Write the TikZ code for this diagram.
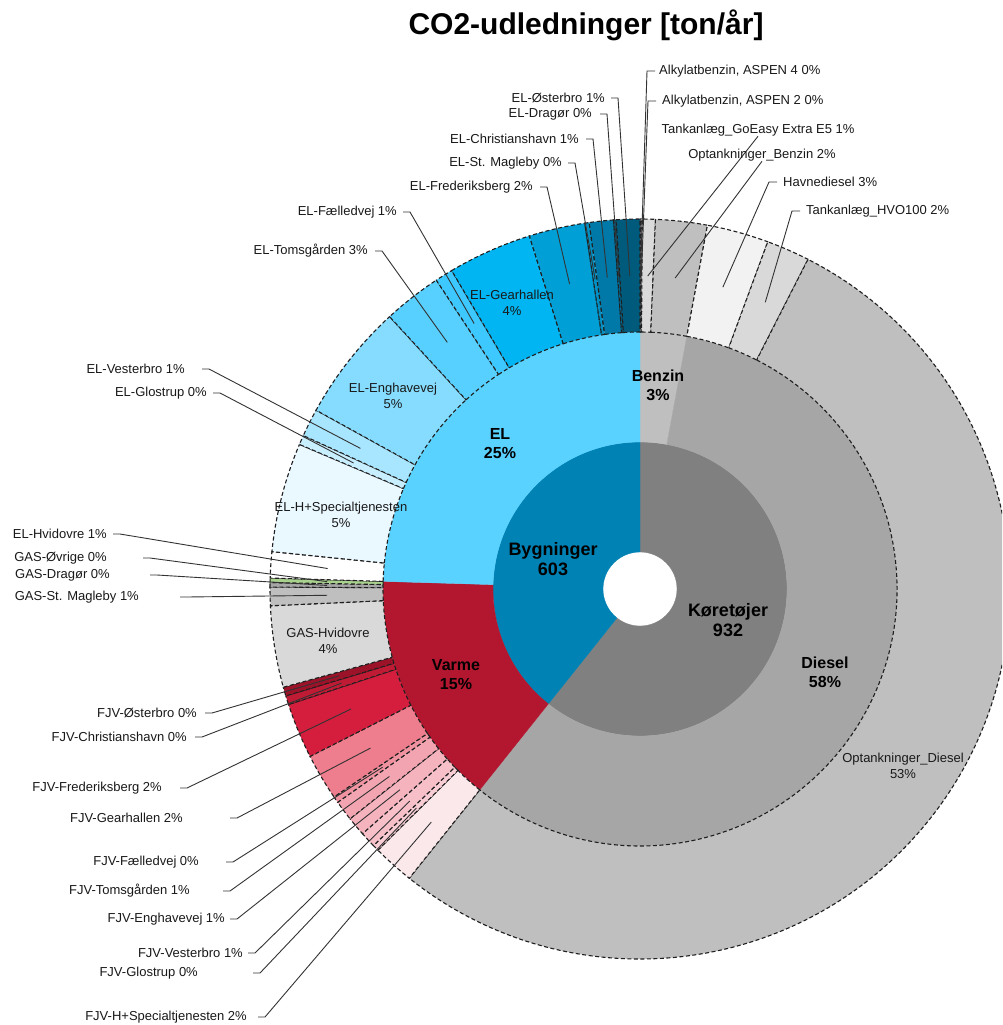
\documentclass[tikz,border=0pt]{standalone}
\usepackage{fontspec}
\setmainfont{Liberation Sans}
\usetikzlibrary{calc}
% ring 1 / ring 2
\definecolor{byg}{HTML}{0082B4}
\definecolor{koer}{HTML}{808080}
\definecolor{benz}{HTML}{BFBFBF}
\definecolor{dies}{HTML}{A6A6A6}
\definecolor{elc}{HTML}{5AD2FF}
\definecolor{varm}{HTML}{B3172F}
% ring 3 vehicles
\definecolor{aspA}{HTML}{D88A9C}
\definecolor{aspB}{HTML}{E6E6E6}
\definecolor{goe}{HTML}{DADADA}
\definecolor{optb}{HTML}{BFBFBF}
\definecolor{havn}{HTML}{F2F2F2}
\definecolor{hvo}{HTML}{D9D9D9}
\definecolor{optd}{HTML}{BFBFBF}
% ring 3 heating
\definecolor{fjvH}{HTML}{FBE8EB}
\definecolor{fjvGl}{HTML}{F9CDD4}
\definecolor{fjvVe}{HTML}{F7C0C9}
\definecolor{fjvEn}{HTML}{F5B3BE}
\definecolor{fjvTo}{HTML}{F2A5B1}
\definecolor{fjvFa}{HTML}{F092A0}
\definecolor{fjvGe}{HTML}{EE7E8E}
\definecolor{fjvFr}{HTML}{D51E3E}
\definecolor{fjvCh}{HTML}{C01B35}
\definecolor{fjvOe}{HTML}{9C1228}
\definecolor{gasHv}{HTML}{D9D9D9}
\definecolor{gasSt}{HTML}{BFBFBF}
\definecolor{gasDr}{HTML}{A6A6A6}
\definecolor{gasOv}{HTML}{A9D18E}
% ring 3 electricity
\definecolor{elHv}{HTML}{FFFFFF}
\definecolor{elH}{HTML}{EAF8FF}
\definecolor{elGl}{HTML}{C8EFFF}
\definecolor{elVe}{HTML}{A8E6FF}
\definecolor{elEn}{HTML}{85DCFF}
\definecolor{elTo}{HTML}{57CFFF}
\definecolor{elFa}{HTML}{3DC8FF}
\definecolor{elGe}{HTML}{00B5F2}
\definecolor{elFr}{HTML}{009FD6}
\definecolor{elSt}{HTML}{0090C4}
\definecolor{elCh}{HTML}{0079A8}
\definecolor{elDr}{HTML}{006A93}
\definecolor{elOe}{HTML}{005A7C}

% annular sector: [opts]{theta1}{theta2}{r_in}{r_out}{colour}, theta clockwise from north
\newcommand\ringseg[6][]{%
  \path[fill=#6,#1] ({#2-90}:#4pt) arc[start angle={#2-90},end angle={#3-90},radius=#4pt]
    -- ({#3-90}:#5pt) arc[start angle={#3-90},end angle={#2-90},radius=#5pt] -- cycle;}
% left label: name, right x, y, leader start x, text
\newcommand\leftlab[5]{%
  \node[labsty,anchor=east] (#1) at (#2,#3) {#5};
  \draw[leadsty] (#1.east) ++({#4-#2},0) -- ++(7,0) -- (#1e);}
% right label: name, left x, y, leader start x, text
\newcommand\rightlab[5]{%
  \node[labsty,anchor=west] (#1) at (#2,#3) {#5};
  \draw[leadsty] (#1.west) ++({#4-#2},0) -- ++(-8,0) -- (#1e);}

\begin{document}
\begin{tikzpicture}[x=1pt,y=1pt,yscale=-1,
  labsty/.style={inner sep=0pt,font=\fontsize{13}{16}\selectfont,text=black!90},
  seglab/.style={inner sep=0pt,align=center,font=\fontsize{13}{16}\selectfont,text=black!90},
  bigsty/.style={inner sep=0pt,align=center,font=\bfseries\fontsize{18}{20}\selectfont},
  midsty/.style={inner sep=0pt,align=center,font=\bfseries\fontsize{16}{19}\selectfont},
  titlesty/.style={inner sep=0pt,font=\bfseries\fontsize{30}{34}\selectfont},
  leadsty/.style={draw=black!80,line width=0.9pt},
  ringline/.style={draw=black!88,line width=1.1pt,dash pattern=on 4pt off 2.5pt}]
\useasboundingbox (0,0) rectangle (1002,1025);
\fill[white] (0,0) rectangle (1002,1025);
\begin{scope}
\clip (0,0) rectangle (1002,1025);
\begin{scope}[shift={(640,589)}]
% ring 1
\ringseg[draw=koer,line width=0.3pt]{0}{218.58}{37}{147}{koer}
\ringseg[draw=byg,line width=0.3pt]{218.58}{360}{37}{147}{byg}
% ring 2
\ringseg[draw=benz,line width=0.3pt]{0}{10.5}{147}{257}{benz}
\ringseg[draw=dies,line width=0.3pt]{10.5}{218.58}{147}{257}{dies}
\ringseg[draw=varm,line width=0.3pt]{218.58}{271.7}{147}{257}{varm}
\ringseg[draw=elc,line width=0.3pt]{271.7}{360}{147}{257}{elc}
% ring 3
\foreach \a/\b/\c in {0/0.15/aspA,0.15/0.35/aspB,0.35/2.4/goe,2.4/10.5/optb,10.5/20.2/havn,
  20.2/27.0/hvo,27.0/218.58/optd,
  218.58/225.1/fjvH,225.1/226.1/fjvGl,226.1/228.6/fjvVe,228.6/231.6/fjvEn,231.6/234.8/fjvTo,
  234.8/235.8/fjvFa,235.8/243.1/fjvGe,243.1/251.8/fjvFr,251.8/253.2/fjvCh,253.2/254.6/fjvOe,
  254.6/267.4/gasHv,267.4/270.3/gasSt,270.3/271.0/gasDr,271.0/271.7/gasOv,
  271.7/275.8/elHv,275.8/293.0/elH,293.0/294.5/elGl,294.5/298.9/elVe,298.9/317.4/elEn,
  317.4/326.6/elTo,326.6/329.4/elFa,329.4/342.6/elGe,342.6/351.4/elFr,351.4/352.1/elSt,
  352.1/355.9/elCh,355.9/356.3/elDr,356.3/360/elOe}
  {\ringseg[ringline]{\a}{\b}{257}{370}{\c}}
% leader end points
\foreach \n/\t in {L1/328,L2/322,L3/347,L4/351.75,L5/354,L6/356.1,L7/358.15,L8/296.7,
  L9/293.75,L10/273.75,L11/271.35,L12/270.65,L13/268.85,L14/253.9,L15/252.5,L16/247.45,
  L17/239.45,L18/235.3,L19/233.2,L20/230.1,L21/227.35,L22/225.6,L23/221.84,
  R1/0.08,R2/0.25,R3/1.4,R4/6.45,R5/15.35,R6/23.6}
  {\coordinate (\n e) at ({\t-90}:313pt);}
\end{scope}
\end{scope}

% title
\node[titlesty] (title) at (586,25) {CO2-udledninger [ton/år]};

% labels inside the rings
\node[bigsty] (byg) at (553,559) {Bygninger\\603};
\node[bigsty] (koe) at (728,620) {Køretøjer\\932};
\node[midsty] (el) at (500,444) {EL\\25\%};
\node[midsty] (benzin) at (658,385) {Benzin\\3\%};
\node[midsty] (varme) at (456,675) {Varme\\15\%};
\node[midsty] (diesel) at (825,672) {Diesel\\58\%};
\node[seglab] (optdl) at (903,766) {Optankninger\_Diesel\\53\%};
\node[seglab] (elgel) at (512,303) {EL-Gearhallen\\4\%};
\node[seglab] (elenl) at (393,396) {EL-Enghavevej\\5\%};
\node[seglab] (elhsl) at (341,515) {EL-H+Specialtjenesten\\5\%};
\node[seglab] (gashvl) at (328,641) {GAS-Hvidovre\\4\%};

% outside labels, left
\leftlab{L1}{397}{212}{403}{EL-Fælledvej 1\%}
\leftlab{L2}{368}{251}{375}{EL-Tomsgården 3\%}
\leftlab{L3}{533}{187}{540}{EL-Frederiksberg 2\%}
\leftlab{L4}{562}{163}{568}{EL-St. Magleby 0\%}
\leftlab{L5}{579}{139}{586}{EL-Christianshavn 1\%}
\leftlab{L6}{592}{114}{600}{EL-Dragør 0\%}
\leftlab{L7}{605}{98}{611}{EL-Østerbro 1\%}
\leftlab{L8}{185}{369}{202}{EL-Vesterbro 1\%}
\leftlab{L9}{207}{393}{213}{EL-Glostrup 0\%}
\leftlab{L10}{107}{534}{113}{EL-Hvidovre 1\%}
\leftlab{L11}{107}{558}{143}{GAS-Øvrige 0\%}
\leftlab{L12}{110}{575}{150}{GAS-Dragør 0\%}
\leftlab{L13}{139}{597}{180}{GAS-St. Magleby 1\%}
\leftlab{L14}{197}{713}{205}{FJV-Østerbro 0\%}
\leftlab{L15}{187}{737}{195}{FJV-Christianshavn 0\%}
\leftlab{L16}{162}{788}{180}{FJV-Frederiksberg 2\%}
\leftlab{L17}{183}{818}{230}{FJV-Gearhallen 2\%}
\leftlab{L18}{199}{862}{226}{FJV-Fælledvej 0\%}
\leftlab{L19}{190}{891}{223}{FJV-Tomsgården 1\%}
\leftlab{L20}{225}{919}{230}{FJV-Enghavevej 1\%}
\leftlab{L21}{243}{953}{248}{FJV-Vesterbro 1\%}
\leftlab{L22}{198}{973}{253}{FJV-Glostrup 0\%}
\leftlab{L23}{247}{1017}{258}{FJV-H+Specialtjenesten 2\%}

% outside labels, right
\rightlab{R1}{659}{71}{655}{Alkylatbenzin, ASPEN 4 0\%}
\rightlab{R2}{662}{101}{656}{Alkylatbenzin, ASPEN 2 0\%}
\rightlab{R5}{783}{182}{777}{Havnediesel 3\%}
\rightlab{R6}{806}{211}{800}{Tankanlæg\_HVO100 2\%}
\node[labsty] (R3) at (758,130) {Tankanlæg\_GoEasy Extra E5 1\%};
\draw[leadsty] (R3.south) -- (R3e);
\node[labsty] (R4) at (762,155) {Optankninger\_Benzin 2\%};
\draw[leadsty] (R4.south) -- (R4e);
\end{tikzpicture}
\end{document}
